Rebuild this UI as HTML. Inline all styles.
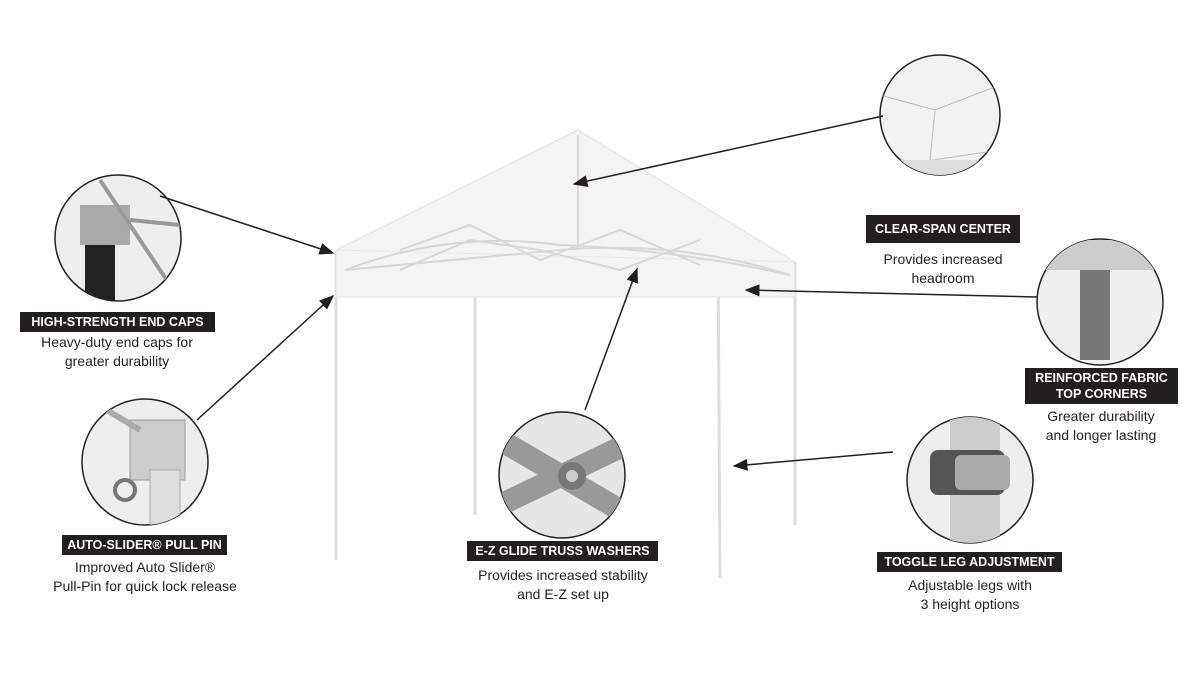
<!DOCTYPE html>
<html><head><style>
body{margin:0;background:#fff;}
.wrap{position:relative;width:1200px;height:691px;overflow:hidden;font-family:"Liberation Sans",sans-serif;}
.lab{position:absolute;background:#231f20;color:#fff;font-weight:bold;font-size:12.5px;text-align:center;line-height:18px;padding:1px 0;}
.txt{position:absolute;color:#231f20;font-size:14px;text-align:center;line-height:19px;}
</style></head><body><div class="wrap">
<svg width="1200" height="691" style="position:absolute;left:0;top:0">
<defs><marker id="a" markerWidth="10" markerHeight="8" refX="9" refY="4" orient="auto"><path d="M0,0 L10,4 L0,8 z" fill="#231f20"/></marker>
<clipPath id="c1"><circle cx="940" cy="115" r="60"/></clipPath>
<clipPath id="c2"><circle cx="118" cy="238" r="63"/></clipPath>
<clipPath id="c3"><circle cx="145" cy="462" r="63"/></clipPath>
<clipPath id="c4"><circle cx="562" cy="475" r="63"/></clipPath>
<clipPath id="c5"><circle cx="1100" cy="302" r="63"/></clipPath>
<clipPath id="c6"><circle cx="970" cy="480" r="63"/></clipPath>
</defs>
<!-- canopy -->
<g stroke="#ddd" fill="none" stroke-width="3">
<line x1="336" y1="250" x2="336" y2="560"/><line x1="475" y1="270" x2="475" y2="515"/>
<line x1="718" y1="250" x2="720" y2="578"/><line x1="795" y1="262" x2="795" y2="525"/>
</g>
<path d="M578,130 L336,250 L336,297 L795,297 L795,262 Z" fill="#f4f4f4" stroke="#e2e2e2"/>
<path d="M336,250 L795,262" stroke="#e8e8e8" fill="none"/>
<g stroke="#d8d8d8" fill="none" stroke-width="2">
<path d="M345,270 Q450,230 560,245 Q680,250 790,275"/><path d="M345,270 Q450,260 560,250 Q680,240 790,275"/>
<path d="M400,250 L470,225 L540,260 L620,230 L700,265"/><path d="M400,270 L470,240 L540,250 L620,270 L700,240"/>
<line x1="578" y1="135" x2="578" y2="250"/>
</g>
<!-- circles -->
<g stroke="#222" stroke-width="1.5">
<circle cx="940" cy="115" r="60" fill="#f2f2f2"/>
<circle cx="118" cy="238" r="63" fill="#eee"/>
<circle cx="145" cy="462" r="63" fill="#eee"/>
<circle cx="562" cy="475" r="63" fill="#e6e6e6"/>
<circle cx="1100" cy="302" r="63" fill="#f0f0f0"/>
<circle cx="970" cy="480" r="63" fill="#eee"/>
</g>
<g clip-path="url(#c1)" stroke="#bbb" fill="none"><path d="M880,95 L935,110 L1000,85 M900,165 L1000,150 M935,110 L930,160"/><rect x="880" y="160" width="120" height="20" fill="#ddd" stroke="none"/></g>
<g clip-path="url(#c2)"><rect x="80" y="205" width="50" height="40" fill="#aaa"/><rect x="85" y="245" width="30" height="60" fill="#222"/><path d="M100,180 L180,300 M130,220 L180,225" stroke="#999" stroke-width="4"/></g>
<g clip-path="url(#c3)"><rect x="130" y="420" width="55" height="60" fill="#ccc" stroke="#999"/><rect x="150" y="470" width="30" height="60" fill="#ddd" stroke="#aaa"/><circle cx="125" cy="490" r="10" fill="none" stroke="#777" stroke-width="4"/><path d="M90,400 L140,430" stroke="#aaa" stroke-width="6"/></g>
<g clip-path="url(#c4)"><path d="M500,440 L620,510 M500,505 L625,445" stroke="#999" stroke-width="22"/><circle cx="572" cy="476" r="14" fill="#777"/><circle cx="572" cy="476" r="6" fill="#ccc"/></g>
<g clip-path="url(#c5)"><rect x="1080" y="240" width="30" height="120" fill="#777"/><rect x="1040" y="240" width="130" height="30" fill="#ccc"/></g>
<g clip-path="url(#c6)"><rect x="950" y="415" width="50" height="130" fill="#ccc"/><rect x="930" y="450" width="75" height="45" rx="8" fill="#555"/><rect x="955" y="455" width="55" height="35" rx="6" fill="#aaa"/></g>
<!-- arrows -->
<g stroke="#231f20" stroke-width="1.5" marker-end="url(#a)">
<line x1="883" y1="116" x2="574" y2="184"/>
<line x1="160" y1="196" x2="333" y2="253"/>
<line x1="197" y1="420" x2="333" y2="296"/>
<line x1="585" y1="410" x2="637" y2="269"/>
<line x1="1037" y1="297" x2="746" y2="290"/>
<line x1="893" y1="452" x2="734" y2="466"/>
</g>
</svg>
<div class="lab" style="left:866px;top:215px;width:154px;height:26px;line-height:26px">CLEAR-SPAN CENTER</div>
<div class="txt" style="left:843px;top:250px;width:200px">Provides increased<br>headroom</div>
<div class="lab" style="left:20px;top:312px;width:195px">HIGH-STRENGTH END CAPS</div>
<div class="txt" style="left:17px;top:333px;width:200px">Heavy-duty end caps for<br>greater durability</div>
<div class="lab" style="left:1025px;top:368px;width:153px;line-height:16px;padding:2px 0">REINFORCED FABRIC<br>TOP CORNERS</div>
<div class="txt" style="left:1001px;top:407px;width:200px">Greater durability<br>and longer lasting</div>
<div class="lab" style="left:62px;top:535px;width:165px">AUTO-SLIDER® PULL PIN</div>
<div class="txt" style="left:25px;top:558px;width:240px">Improved Auto Slider®<br>Pull-Pin for quick lock release</div>
<div class="lab" style="left:467px;top:541px;width:191px">E-Z GLIDE TRUSS WASHERS</div>
<div class="txt" style="left:453px;top:566px;width:220px">Provides increased stability<br>and E-Z set up</div>
<div class="lab" style="left:877px;top:552px;width:185px">TOGGLE LEG ADJUSTMENT</div>
<div class="txt" style="left:870px;top:576px;width:200px">Adjustable legs with<br>3 height options</div>
</div></body></html>
